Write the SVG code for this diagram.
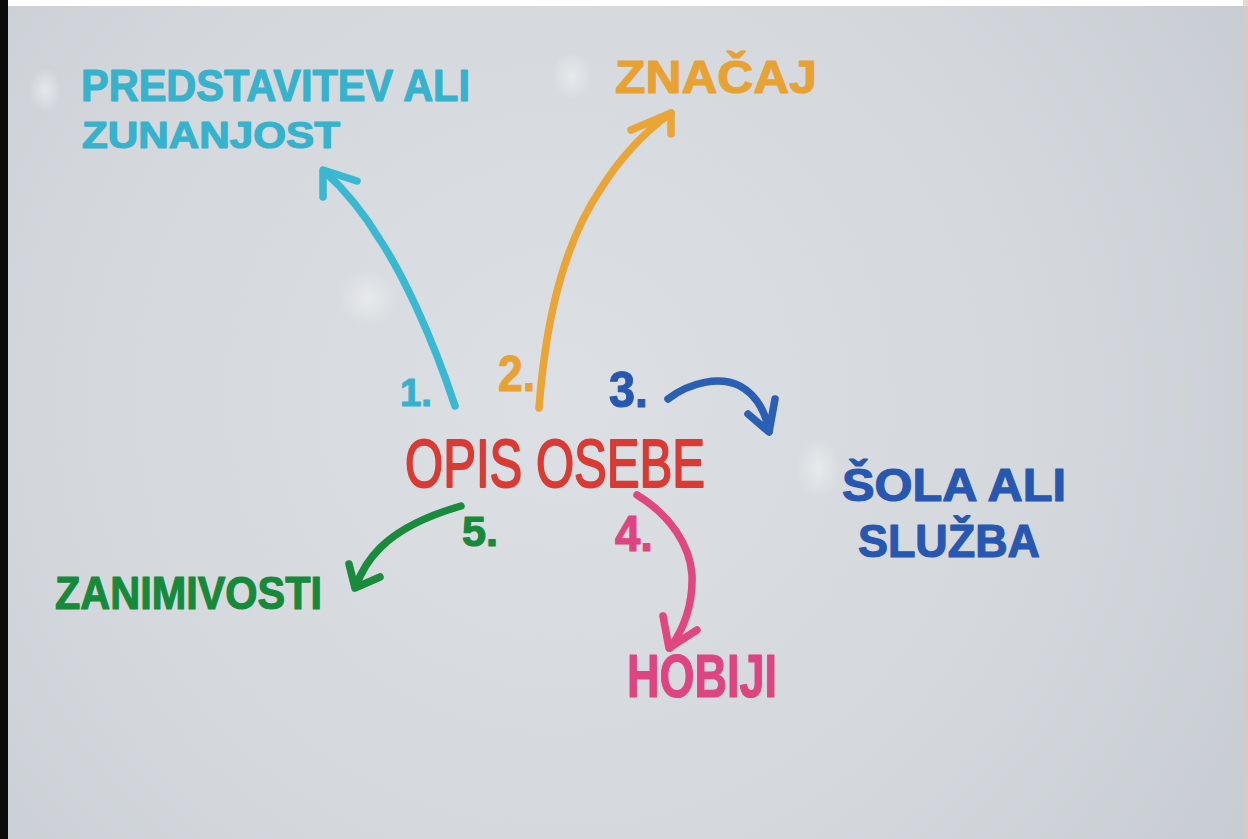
<svg xmlns="http://www.w3.org/2000/svg" width="1248" height="839" viewBox="0 0 1248 839">
  <defs>
    <radialGradient id="board" cx="560" cy="400" r="820" gradientUnits="userSpaceOnUse">
      <stop offset="0" stop-color="#dcdfe3"/>
      <stop offset="0.6" stop-color="#d4d8dd"/>
      <stop offset="1" stop-color="#c7ccd2"/>
    </radialGradient>
    <radialGradient id="spot">
      <stop offset="0" stop-color="#eceef0" stop-opacity="0.75"/>
      <stop offset="1" stop-color="#eceef0" stop-opacity="0"/>
    </radialGradient>
    <style>
      .t { font-family: "Liberation Sans", "DejaVu Sans", sans-serif; font-weight: bold; stroke-linejoin: round; stroke-linecap: round; }
      .cy { fill: #37b2cc; stroke: #37b2cc; stroke-width: 1.2; }
      .or { fill: #e8a233; stroke: #e8a233; stroke-width: 1.2; }
      .bl { fill: #2757b0; stroke: #2757b0; stroke-width: 1.2; }
      .rd { fill: #d93b34; stroke: #d93b34; stroke-width: 2; font-weight: normal; }
      .gr { fill: #17893a; stroke: #17893a; stroke-width: 1.2; }
      .pk { fill: #de4580; stroke: #de4580; stroke-width: 1.2; }
      .ln { fill: none; stroke-width: 7.5; stroke-linecap: round; stroke-linejoin: round; }
    </style>
  </defs>

  <rect x="0" y="0" width="1248" height="839" fill="url(#board)"/>
  <rect x="0" y="0" width="1248" height="6" fill="#ffffff"/>
  <rect x="0" y="0" width="8" height="839" fill="#0b0b0b"/>
  <rect x="1243" y="0" width="5" height="839" fill="#d9c9c2" opacity="0.7"/>

  <!-- wiped spots -->
  <ellipse cx="45" cy="90" rx="16" ry="22" fill="url(#spot)"/>
  <ellipse cx="572" cy="76" rx="20" ry="24" fill="url(#spot)"/>
  <ellipse cx="368" cy="298" rx="30" ry="28" fill="url(#spot)"/>
  <ellipse cx="818" cy="468" rx="22" ry="30" fill="url(#spot)"/>

  <g id="connectors">
    <!-- 1 cyan -->
    <path class="ln" stroke="#3ab8d2" d="M455 406 C430 330 400 270 380 240 C365 215 345 190 324 171"/>
    <path class="ln" stroke="#3ab8d2" d="M357 181 L323 170 L323 197"/>
    <!-- 2 orange -->
    <path class="ln" stroke="#eaa536" d="M539 408 C545 330 560 250 600 190 C625 150 650 128 671 113"/>
    <path class="ln" stroke="#eaa536" d="M631 130 L671 113 L671 134"/>
    <!-- 3 blue -->
    <path class="ln" stroke="#2a5fb4" d="M668 399 C690 382 720 376 740 386 C758 396 766 415 769 431"/>
    <path class="ln" stroke="#2a5fb4" d="M748 414 L769 432 L775 399"/>
    <!-- 4 pink -->
    <path class="ln" stroke="#e0467f" d="M637 495 C670 515 690 545 692 575 C693 605 683 630 670 648"/>
    <path class="ln" stroke="#e0467f" d="M663 616 L669 648 L697 630"/>
    <!-- 5 green -->
    <path class="ln" stroke="#1a8b3c" d="M461 506 C430 515 400 528 380 548 C366 562 360 575 356 586"/>
    <path class="ln" stroke="#1a8b3c" d="M349 564 L355 588 L380 577"/>
  </g>

  <g id="node-center">
    <text class="t rd" x="405" y="487" font-size="68" textLength="300" lengthAdjust="spacingAndGlyphs">OPIS OSEBE</text>
  </g>

  <g id="node-1">
    <text class="t cy" x="400" y="406" font-size="38" textLength="32" lengthAdjust="spacingAndGlyphs">1.</text>
    <text class="t cy" x="81" y="101" font-size="44" textLength="389" lengthAdjust="spacingAndGlyphs">PREDSTAVITEV ALI</text>
    <text class="t cy" x="82" y="148" font-size="36" textLength="258" lengthAdjust="spacingAndGlyphs">ZUNANJOST</text>
  </g>

  <g id="node-2">
    <text class="t or" x="498" y="391" font-size="50" textLength="37" lengthAdjust="spacingAndGlyphs">2.</text>
    <text class="t or" x="615" y="93" font-size="46" textLength="202" lengthAdjust="spacingAndGlyphs">ZNAČAJ</text>
  </g>

  <g id="node-3">
    <text class="t bl" x="609" y="407" font-size="50" textLength="39" lengthAdjust="spacingAndGlyphs">3.</text>
    <text class="t bl" x="842" y="501" font-size="46" textLength="224" lengthAdjust="spacingAndGlyphs">ŠOLA ALI</text>
    <text class="t bl" x="858" y="557" font-size="46" textLength="182" lengthAdjust="spacingAndGlyphs">SLUŽBA</text>
  </g>

  <g id="node-4">
    <text class="t pk" x="615" y="551" font-size="50" textLength="38" lengthAdjust="spacingAndGlyphs">4.</text>
    <text class="t pk" x="627" y="697" font-size="62" textLength="150" lengthAdjust="spacingAndGlyphs">HOBIJI</text>
  </g>

  <g id="node-5">
    <text class="t gr" x="462" y="546" font-size="42" textLength="36" lengthAdjust="spacingAndGlyphs">5.</text>
    <text class="t gr" x="55" y="609" font-size="46" textLength="267" lengthAdjust="spacingAndGlyphs">ZANIMIVOSTI</text>
  </g>
</svg>
